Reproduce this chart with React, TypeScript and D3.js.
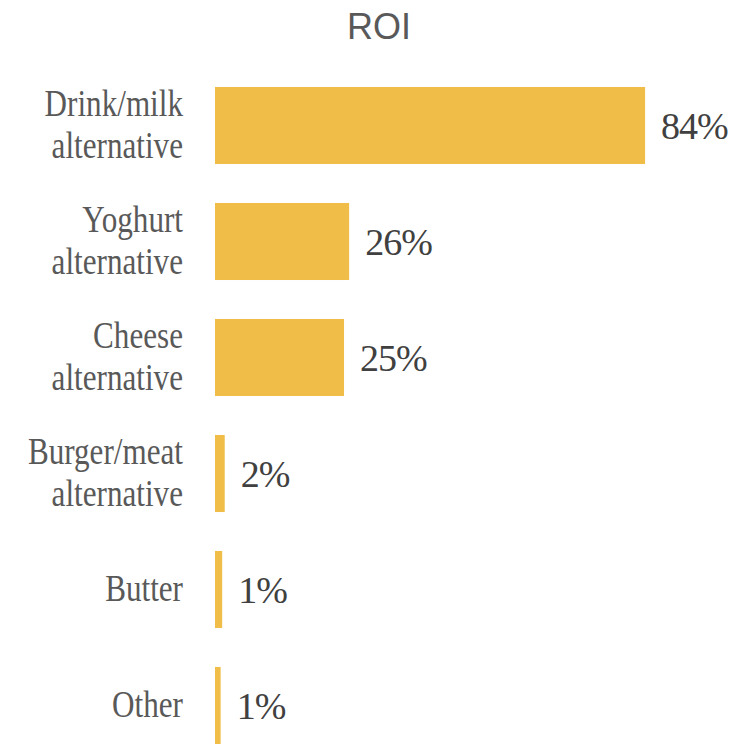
import React from "react";
import * as d3 from "d3";

const categories: string[][] = [
  ["Drink/milk", "alternative"],
  ["Yoghurt", "alternative"],
  ["Cheese", "alternative"],
  ["Burger/meat", "alternative"],
  ["Butter"],
  ["Other"],
];
const values: number[] = [84, 26.2, 25.2, 1.9, 1.4, 1.1];
const valueLabels: string[] = ["84%", "26%", "25%", "2%", "1%", "1%"];
const title = "ROI";

const W = 732;
const H = 744;

export default function App() {
  const keys = categories.map((c) => c.join(" "));
  const y = d3
    .scaleBand<string>()
    .domain(keys)
    .range([67.5, 763.5])
    .paddingInner(0.336)
    .paddingOuter(0.168);
  const x = d3.scaleLinear().domain([0, 100]).range([215, 727]);
  const labelRight = 183;
  const lineH = 42;
  const sx = 0.82;

  return (
    <svg
      width={W}
      height={H}
      style={{ position: "absolute", left: 0, top: 0, display: "block" }}
    >
      <rect x={0} y={0} width={W} height={H} fill="#ffffff" />
      <text
        x={379}
        y={39}
        textAnchor="middle"
        fontFamily="'Liberation Sans', Arial, sans-serif"
        fontSize={36}
        fill="#595959"
      >
        {title}
      </text>
      {keys.map((k, i) => {
        const y0 = y(k) as number;
        const bw = y.bandwidth();
        const cy = y0 + bw / 2;
        const lines = categories[i];
        return (
          <g key={k}>
            <rect
              x={x(0)}
              y={y0}
              width={x(values[i]) - x(0)}
              height={bw}
              fill="#F0BD48"
            />
            <text
              x={x(values[i]) + 16}
              y={cy + 13}
              fontFamily="'Liberation Serif', 'Times New Roman', serif"
              fontSize={38}
              letterSpacing={-1}
              fill="#404040"
            >
              {valueLabels[i]}
            </text>
            <g transform={`translate(${labelRight},0) scale(${sx},1)`}>
              {lines.map((ln, j) => (
                <text
                  key={j}
                  x={0}
                  y={cy + 12 + (j - (lines.length - 1) / 2) * lineH}
                  textAnchor="end"
                  fontFamily="'Liberation Serif', 'Times New Roman', serif"
                  fontSize={38}
                  fill="#595959"
                >
                  {ln}
                </text>
              ))}
            </g>
          </g>
        );
      })}
    </svg>
  );
}
